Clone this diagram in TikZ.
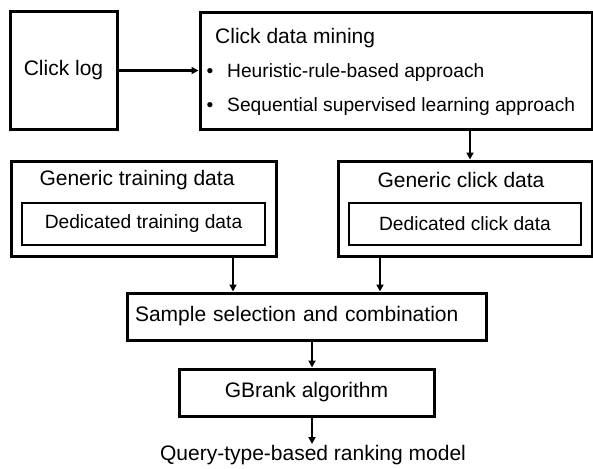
\documentclass[tikz,border=0pt]{standalone}
\usepackage{fontspec}
\setmainfont{Liberation Sans}
\usetikzlibrary{arrows.meta}
\tikzset{
  outerbox/.style={draw, line width=3pt, inner sep=0pt},
  innerbox/.style={draw, line width=1.8pt, inner sep=0pt, font=\fontsize{19.2}{22}\selectfont},
  label/.style={inner sep=0pt},
  smalllabel/.style={inner sep=0pt, font=\fontsize{19.2}{22}\selectfont},
  arr/.style={line width=2.2pt, -{Triangle[length=7pt,width=7pt]}},
}
\begin{document}
\begin{tikzpicture}[x=1pt,y=-1pt,font=\fontsize{21}{25}\selectfont]
\useasboundingbox (0,0) rectangle (593,468);

% top row
\node[outerbox, minimum width=107pt, minimum height=117pt] (log) at (63.5,70.5) {Click log};
\node[outerbox, minimum width=392pt, minimum height=116pt] (mining) at (396,71) {};
\node[label, anchor=west] (mtitle) at (215,38) {Click data mining};
\node[smalllabel] (b1) at (210,73) {•};
\node[smalllabel, anchor=west] (h1) at (227,73) {Heuristic-rule-based approach};
\node[smalllabel] (b2) at (210,107) {•};
\node[smalllabel, anchor=west] (h2) at (227,107) {Sequential supervised learning approach};

% middle row
\node[outerbox, minimum width=265pt, minimum height=95pt] (gtrain) at (143.5,208.5) {};
\node[label] (gtraint) at (137,180) {Generic training data};
\node[innerbox, minimum width=243pt, minimum height=42pt] (dtrain) at (143.5,224) {Dedicated training data};

\node[outerbox, minimum width=254pt, minimum height=95pt] (gclick) at (465,208.5) {};
\node[label] (gclickt) at (461,180) {Generic click data};
\node[innerbox, minimum width=232pt, minimum height=42pt] (dclick) at (465,224) {Dedicated click data};

% lower part
\node[outerbox, text width=343pt, inner xsep=8pt, inner ysep=0pt, minimum height=47pt, align=left] (sample) at (306.5,316.5) {Sample selection and combination};
\node[outerbox, minimum width=255pt, minimum height=47pt] (gbrank) at (306.5,392.5) {GBrank algorithm};
\node[label, inner sep=1pt] (model) at (313,455) {Query-type-based ranking model};

% connector columns
\coordinate (xc) at (470,0);
\coordinate (xa) at (233,0);
\coordinate (xb) at (380,0);
\coordinate (xd) at (312,0);

\draw[arr] (log.east) -- (log.east -| mining.west);
\draw[arr] (xc |- mining.south) -- (xc |- gclick.north);
\draw[arr] (xa |- gtrain.south) -- (xa |- sample.north);
\draw[arr] (xb |- gclick.south) -- (xb |- sample.north);
\draw[arr] (xd |- sample.south) -- (xd |- gbrank.north);
\draw[arr] (xd |- gbrank.south) -- (xd |- model.north);
\end{tikzpicture}
\end{document}
